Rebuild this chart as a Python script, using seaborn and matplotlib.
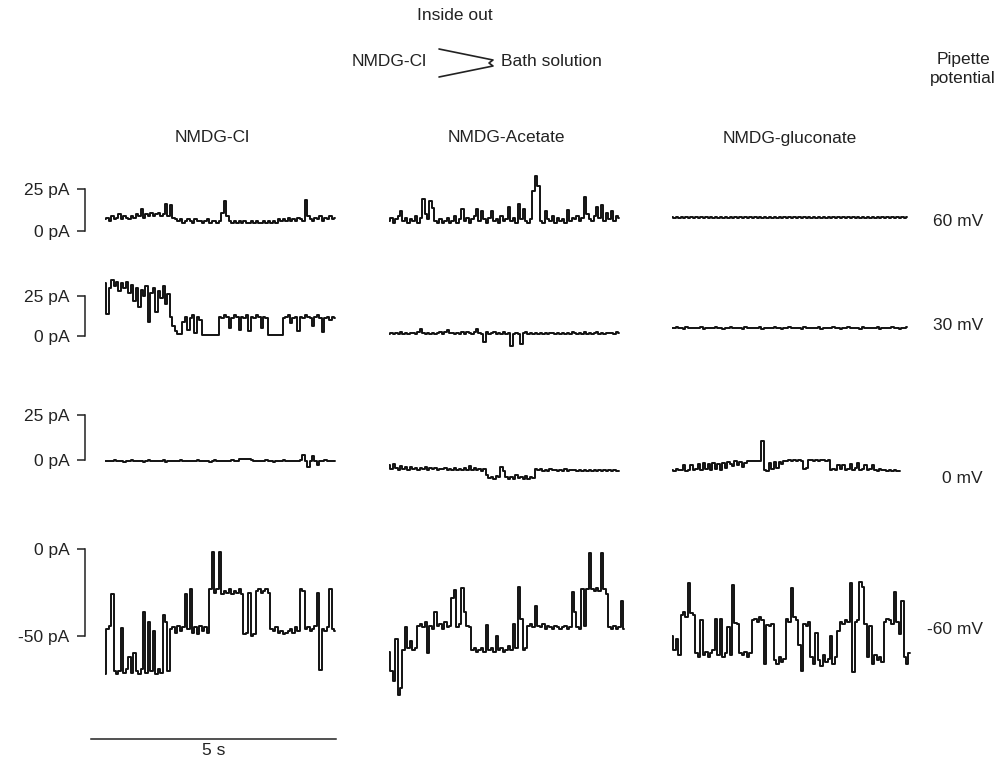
import numpy as np
import pandas as pd
import matplotlib
matplotlib.use("Agg")
import matplotlib.pyplot as plt
import seaborn as sns
from matplotlib.lines import Line2D

# ---------------- data (pA, sampled every dt seconds) ----------------
columns = ["NMDG-Cl", "NMDG-Acetate", "NMDG-gluconate"]
potentials = ["60 mV", "30 mV", "0 mV", "-60 mV"]
row_ticks = [[0, 25], [0, 25], [0, 25], [-50, 0]]
row_tick_labels = [["0 pA", "25 pA"], ["0 pA", "25 pA"], ["0 pA", "25 pA"], ["-50 pA", "0 pA"]]
dt = 0.05          # s per sample
scale_bar_s = 5    # time scale bar length (s)

r1c1 = [7,8,6,9,7,8,10,7,9,8, 7,9,8,10,9,13,8,10,9,11, 9,10,11,9,10,16,9,15.5,8,7,
        6,7,5,6,7,6,5,7,6,6, 5,6,7,5,6,6,5,6,11,18, 9,6,5,6,5,6,5,6,5,5,
        6,5,6,5,5,6,5,6,5,6, 5,7,6,7,6,8,6,7,6,8, 7,6,18.5,9,7,6,8,7,9,6, 8,7,9,7,8]
r1c2 = [6,8,5,7,9,12,6,8,5,7, 6,9,5,8,19,10,7,18,13.7,6, 5,7,5,6,8,5,6,9,5,7,
        13,6,8,5,7,9,13,6,12,7, 5,8,12,6,7,5,9,6,7,14.5, 6,8,5,16,7,13,6,5,7,24,
        33,27,6,5,12,7,6,9,5,8, 6,7,5,12.5,6,8,7,9,6,8, 20,10,7,6,9,14.5,8,15.5,6,11, 7,12,6,9,8]
r1c3 = [8.3,7.7,8.4,7.8,8.2,7.6,8.4,7.9,8.3,7.7, 8.2,7.8,8.4,7.6,8.3,7.9,8.2,7.7,8.4,7.8,
        8.3,7.6,8.2,7.9,8.4,7.7,8.3,7.8,8.2,7.6, 8.4,7.9,8.3,7.7,8.2,7.8,8.4,7.6,8.3,7.9,
        8.2,7.7,8.4,7.8,8.3,7.6,8.2,7.9,8.4,7.7, 8.3,7.8,8.2,7.6,8.4,7.9,8.3,7.7,8.2,7.8,
        8.4,7.6,8.3,7.9,8.2,7.7,8.4,7.8,8.3,7.6, 8.2,7.9,8.4,7.7,8.3,7.8,8.2,7.6,8.4,7.9,
        8.3,7.7,8.2,7.8,8.4,7.6,8.3,7.9,8.2,7.7, 8.4,7.8,8.3,7.6,8.2,7.9,8.4]

r2c1 = [33,14,30,35,31,34,28,33,30,34, 27,32,22,30,18,29,25,31,9,27, 30,15,28,24,31,20,26,12,6,3,
        1.5,1,9,12,4,11,13,2,12,10, 0.6,0.5,0.8,0.4,0.7,0.5,0.6,12,11,13, 12,5,11,13,12,4,12,11,13,3,
        12,11,13,12,5,12,11,0.8,0.5,0.6, 0.4,0.6,0.5,11,12,13,8,11,12,3, 12,11,13,12,11,6,12,13,11,2.5,
        11,12,10,12,11]
r2c2 = [1.5,2,1,1.8,1.2,2.2,1.4,1.9,1.1,2, 1.6,1.2,2.4,4.5,1.8,1.3,2,1.5,1.9,1.1,
        1.7,2.2,1.4,2.6,3.5,1.6,2,1.3,1.8,1.2, 2.2,1.5,2.6,1.8,1.2,2.8,4.5,2,1.4,-3.5,
        2.4,1.2,1.8,2.6,1.1,1.9,1.5,2.3,1.2,1.8, -6.5,1.5,2.1,1.2,-5,1.7,2.2,1.4,1.9,1.1,
        1.8,1.3,2,1.5,1.9,1.2,1.7,2.1,1.4,1.8, 1.2,2,1.5,1.9,1.3,2.2,1.6,1.1,1.8,1.4,
        2.3,1.5,1.9,1.2,1.8,2.4,1.5,2,1.3,1.9, 1.6,2.1,1.4,2.2,1.8]
r2c3 = [5.3,4.7,5.4,4.8,5.2,4.6,5.4,4.9,5.3,4.7, 5.2,4.8,5.4,4.6,5.3,4.9,5.2,4.7,5.4,4.8,
        5.3,4.6,5.2,4.9,5.4,4.7,5.3,4.8,5.2,4.6, 5.4,4.9,5.3,4.7,5.2,4.8,5.4,4.6,5.3,4.9,
        5.2,4.7,5.4,4.8,5.3,4.6,5.2,4.9,5.4,4.7, 5.3,4.8,5.2,4.6,5.4,4.9,5.3,4.7,5.2,4.8,
        5.4,4.6,5.3,4.9,5.2,4.7,5.4,4.8,5.3,4.6, 5.2,4.9,5.4,4.7,5.3,4.8,5.2,4.6,5.4,4.9,
        5.3,4.7,5.2,4.8,5.4,4.6,5.3,4.9,5.2,4.7, 5.4,4.8,5.3,4.6,5.2,4.9,5.4]

r3c1 = [-0.3,-0.8,-0.4,-0.7,-0.2,-0.8,-0.5,-0.3,-0.9,-0.4, -0.6,-0.2,-0.8,-0.4,-0.7,-0.3,-0.9,-0.5,-0.2,-0.7,
        -0.4,-0.8,-0.3,-0.6,-0.2,-0.9,-0.5,-0.3,-0.8,-0.4, -0.7,-0.2,-0.6,-0.4,-0.8,-0.3,-0.7,-0.5,-0.2,-0.8,
        -0.4,-0.6,-0.3,-0.9,-0.5,-0.2,-0.7,-0.4,-0.8,-0.3, -0.6,-0.4,-0.2,-0.7,-0.3,0.4,0.8,0.3,0.7,0.5,
        0.2,-0.4,-0.7,-0.3,-0.8,-0.5,-0.2,-0.6,-0.4,-0.9, -0.3,-0.7,-0.5,-0.2,-0.8,-0.4,-0.6,-0.3,-0.8,-0.5,
        -0.2,3,-0.7,-4,-0.3,2.2,-0.8,-3,-0.4,-0.6, -0.2,-0.8,-0.4,-0.7,-0.3]
r3c2 = [-3,-5,-2,-4.5,-5.5,-3.5,-5,-4,-5.5,-3.8, -5,-4.2,-5.6,-4.5,-5.2,-4,-5.5,-4.6,-5,-4.3,
        -5.4,-4.8,-5.2,-4.5,-5.6,-4.9,-5.3,-4.4,-5.5,-5, -5.6,-4.7,-5.3,-3.5,-5.8,-4.6,-5.5,-5.1,-6,-5.2,
        -8.5,-10,-9.2,-10.5,-8.8,-9.6,-4,-6,-9.5,-10.8, -9.2,-10.5,-8.6,-10.2,-9.4,-10.8,-9,-10.4,-9.6,-10.2,
        -5.2,-5.8,-5,-6,-5.4,-5.9,-5.1,-5.7,-5.3,-6, -5.5,-5.9,-5.2,-6.1,-5.6,-5.8,-5.3,-6,-5.5,-6.1,
        -5.6,-6.2,-5.4,-5.9,-5.7,-6.2,-5.5,-6,-5.8,-6.3, -5.6,-6,-5.7,-6.2,-5.9]
r3c3 = [-5.5,-6,-5.2,-5.8,-5.4,-3,-6,-5.3,-2.5,-5.8, -5.2,-2,-5.6,-1.5,-5,-2.2,-5.5,-1.8,-4.8,-2,
        -5.3,-1.5,-4.5,-1,-2,-3.5,-0.8,-3,-1.2,-4, -1.5,-0.5,-0.8,-0.4,-0.6,-0.5,-0.7,10.5,-5.5,-6,
        -1.5,-5,-1,-4.5,-1.2,-2,-0.3,-0.6,0,-0.4, -0.2,-0.5,0.1,-0.3,-5,-4.5,-0.2,0,-0.4,0.1,
        -0.3,0,-0.2,-0.5,0,-5.5,-4.8,-5.8,-3,-5.2, -2.5,-5.6,-5,-2,-5.5,-4.6,-1.8,-5.4,-5,-2.5,
        -5.7,-4.8,-3,-5.5,-5.9,-5.2,-5.8,-5.4,-6,-5.6, -6.2,-5.8,-6.3,-6]

r4c1 = [-72,-46,-44,-26,-70,-72,-70,-45.6,-71,-69, -62,-71,-60,-70,-72,-69,-36,-71,-42,-70,
        -47,-72,-69,-71,-38,-42,-70,-46,-45,-48, -44,-47,-45,-26,-46,-23,-48,-45,-49,-44,
        -47,-45,-48,-23,-1.5,-25,-23,-2,-26,-24, -25,-23,-26,-24,-25,-23,-26,-49,-48,-25,
        -50,-49,-24,-23,-25,-24,-23,-25,-46,-47, -45,-48,-47,-49,-48,-47,-46,-48,-45,-47,
        -23,-24,-46,-45,-47,-46,-44,-25,-69.6,-46, -47,-45,-23,-46,-47]
r4c2 = [-59,-70,-76,-52,-84,-80,-58,-44.7,-57,-53, -58,-57,-44,-43,-45,-42,-60,-44,-46,-36,
        -44,-43,-46,-42,-45,-44,-28.4,-23.6,-45,-43, -22.6,-36,-44,-45,-58,-57,-59,-58,-57,-59,
        -43.7,-58,-57,-59,-50,-58,-57,-59,-58,-56, -58,-43,-57,-21.6,-40,-58,-57,-44,-43,-45,
        -33,-44,-45,-43,-46,-44,-45,-46,-44,-45, -46,-45,-44,-46,-45,-24.5,-36,-45,-46,-23,
        -44,-23,-2.5,-23,-24,-22.6,-24,-2.5,-23,-26, -45,-46,-44,-46,-45,-30,-46]
r4c3 = [-50,-58,-52,-61,-38,-36,-39,-19.5,-37,-38, -60,-62,-41,-61,-59,-62,-60,-58,-40,-61,
        -40,-62,-60,-45,-61,-20.7,-42.6,-43,-60,-61, -59,-62,-60,-41,-40,-42,-39,-41,-66,-43.7,
        -44,-43,-64,-66,-62,-65,-63,-40,-42,-22.6, -39,-41,-55,-70,-43,-44,-42,-62,-66,-48,
        -64,-67,-61,-65,-63,-50,-66,-62,-47,-42, -43,-41,-42,-19.5,-70.5,-42,-41,-18.8,-22,-43,
        -62,-44,-66,-61,-64,-62,-65,-42,-40,-41, -43,-24.6,-42,-49,-30,-62,-66,-60]

traces = [[r1c1, r1c2, r1c3], [r2c1, r2c2, r2c3], [r3c1, r3c2, r3c3], [r4c1, r4c2, r4c3]]

# ---------------- style ----------------
sns.set_theme(style="white")
plt.rcParams['font.family'] = ['Liberation Sans', 'DejaVu Sans']
TXT = "#222222"
TRACE = "#121212"
FS = 12.5

W, H = 1002, 762
fig = plt.figure(figsize=(W / 100, H / 100), dpi=100)
fig.patch.set_facecolor("white")


def box(x0, y0, x1, y1):
    return [x0 / W, 1 - y1 / H, (x1 - x0) / W, (y1 - y0) / H]


def ftext(x, y, s, **kw):
    fig.text(x / W, 1 - y / H, s, fontsize=kw.pop("fontsize", FS), color=TXT, **kw)


PX_PER_S = 49
col_x0 = [105, 389, 672]
col_w = 240
# (axes top px, axes bottom px, zero-current px, px per pA)
rows_geom = [(160, 240, 231, 1.68), (262, 352, 336, 1.6), (400, 490, 460, 1.8), (540, 705, 549, 1.74)]

for r in range(4):
    top, bot, zero, s = rows_geom[r]
    for c in range(3):
        ax = fig.add_axes(box(col_x0[c], top, col_x0[c] + col_w, bot))
        vals = traces[r][c]
        df = pd.DataFrame({"t": np.arange(len(vals)) * dt, "I": vals})
        sns.lineplot(data=df, x="t", y="I", ax=ax, color=TRACE, linewidth=1.4,
                     estimator=None, sort=False, drawstyle="steps-mid")
        ax.set_xlim(0, col_w / PX_PER_S)
        ax.set_ylim(-(bot - zero) / s, (zero - top) / s)
        ax.set_xlabel("")
        ax.set_ylabel("")
        ax.patch.set_alpha(0)
        for sp in ["top", "right", "bottom"]:
            ax.spines[sp].set_visible(False)
        ax.set_xticks([])
        if c == 0:
            sp = ax.spines["left"]
            sp.set_visible(True)
            sp.set_position(("outward", 20 * 0.72))
            sp.set_bounds(*row_ticks[r])
            sp.set_color(TXT)
            sp.set_linewidth(1.1)
            ax.set_yticks(row_ticks[r])
            ax.set_yticklabels(row_tick_labels[r])
            ax.tick_params(axis="y", left=True, direction="out", length=6, width=1.1,
                           pad=5, labelsize=FS, colors=TXT)
        else:
            ax.spines["left"].set_visible(False)
            ax.set_yticks([])

# time scale bar
sb = fig.add_axes(box(91, 700, 91 + scale_bar_s * PX_PER_S, 739))
sb.set_xlim(0, scale_bar_s)
sb.patch.set_alpha(0)
for sp in ["top", "right", "left"]:
    sb.spines[sp].set_visible(False)
sb.spines["bottom"].set_color(TXT)
sb.spines["bottom"].set_linewidth(1.1)
sb.set_xticks([])
sb.set_yticks([])
sb.set_xlabel(f"{scale_bar_s} s", fontsize=FS, color=TXT, labelpad=3)

# column titles
for cx, name in zip([212, 506, 790], columns):
    ftext(cx, 138, name, ha="center", va="center")

# potentials
for y, lab in zip([221, 326, 479, 630], potentials):
    ftext(983, y, lab, ha="right", va="center")
ftext(963, 69, "Pipette\npotential", ha="center", va="center", linespacing=1.3)

# header schematic
ftext(455, 15, "Inside out", ha="center", va="center")
ftext(427, 62, "NMDG-Cl", ha="right", va="center")
ftext(501, 62, "Bath solution", ha="left", va="center")
px = [439, 493, 489, 493, 439]
py = [49, 60, 63, 66, 77]
fig.add_artist(Line2D([x / W for x in px], [1 - y / H for y in py], color=TXT,
                      linewidth=1.2, transform=fig.transFigure))

fig.savefig("out.png", dpi=100, facecolor="white")
